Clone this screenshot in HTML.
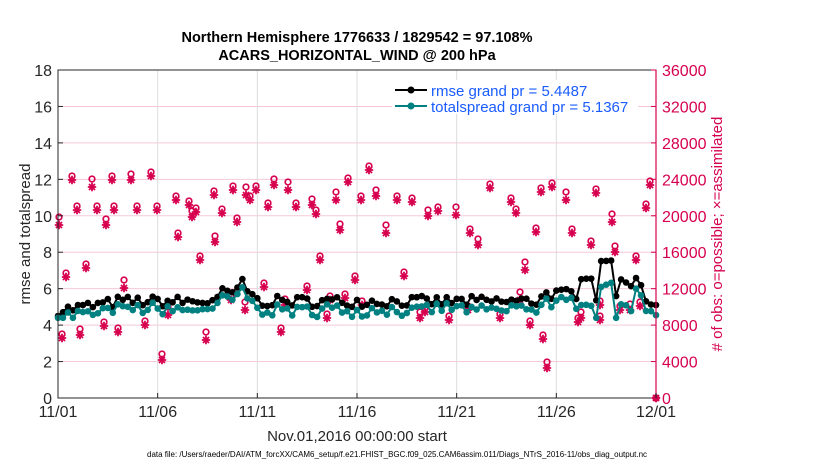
<!DOCTYPE html>
<html><head><meta charset="utf-8"><style>
body{margin:0;background:#fff;}
svg{display:block;font-family:"Liberation Sans",Arial,sans-serif;}
</style></head><body>
<svg id="s" width="830" height="470" viewBox="0 0 830 470" xmlns="http://www.w3.org/2000/svg">
<rect width="830" height="470" fill="#fff"/>
<g id="grid"></g>
<g id="obs"></g>
<g id="lines"></g>
<rect x="58" y="70" width="598" height="328" fill="none" stroke="#262626" stroke-width="1"/>
<line x1="656" y1="70" x2="656" y2="398" stroke="#d6004f" stroke-width="1.2"/>
<g id="ticks"></g>
<text x="357" y="42" font-size="14.5" font-weight="bold" text-anchor="middle">Northern Hemisphere 1776633 / 1829542 = 97.108%</text>
<text x="357" y="60" font-size="14.5" font-weight="bold" text-anchor="middle">ACARS_HORIZONTAL_WIND @ 200 hPa</text>
<text transform="translate(30,234) rotate(-90)" font-size="15" text-anchor="middle" fill="#262626">rmse and totalspread</text>
<text transform="translate(722,234) rotate(-90)" font-size="15" text-anchor="middle" fill="#d6004f"># of obs: o=possible; ×=assimilated</text>
<text x="357" y="441" font-size="15" text-anchor="middle" fill="#262626">Nov.01,2016 00:00:00 start</text>
<text x="397" y="457" font-size="8" text-anchor="middle" fill="#000" textLength="500" lengthAdjust="spacingAndGlyphs">data file: /Users/raeder/DAI/ATM_forcXX/CAM6_setup/f.e21.FHIST_BGC.f09_025.CAM6assim.011/Diags_NTrS_2016-11/obs_diag_output.nc</text>
<rect x="392" y="80" width="246" height="34" fill="#fff"/>
<line x1="395" y1="90" x2="427" y2="90" stroke="#000" stroke-width="2"/><circle cx="411" cy="90" r="3.5" fill="#000"/>
<line x1="395" y1="106" x2="427" y2="106" stroke="#008080" stroke-width="2"/><circle cx="411" cy="106" r="3.5" fill="#008080"/>
<text x="431" y="96" font-size="15" fill="#1a5cff">rmse grand pr = 5.4487</text>
<text x="431" y="112" font-size="15" fill="#1a5cff">totalspread grand pr = 5.1367</text>
</svg>
<script>
const NS="http://www.w3.org/2000/svg";
function el(p,t,a,txt){const e=document.createElementNS(NS,t);for(const k in a)e.setAttribute(k,a[k]);if(txt!==undefined)e.textContent=txt;document.getElementById(p).appendChild(e);return e;}
const X0=58,X1=656,Y0=398,Y1=70;
const xd=d=>X0+d*(X1-X0)/30, yv=v=>Y0-v*(Y0-Y1)/18;
for(let v=2;v<18;v+=2)el("grid","line",{x1:X0,x2:X1,y1:yv(v),y2:yv(v),stroke:"#f5c9d8","stroke-width":1});
for(let d=5;d<30;d+=5)el("grid","line",{x1:xd(d),x2:xd(d),y1:Y1,y2:Y0,stroke:"#dcdcdc","stroke-width":1});
for(let v=0;v<=18;v+=2){el("ticks","line",{x1:X0,x2:X0+5,y1:yv(v),y2:yv(v),stroke:"#262626"});el("ticks","text",{x:X0-6,y:yv(v)+6,"font-size":16,"text-anchor":"end",fill:"#262626"},v);}
for(let c=0;c<=36000;c+=4000){const y=Y0-c*(Y0-Y1)/36000;el("ticks","line",{x1:X1-5,x2:X1,y1:y,y2:y,stroke:"#d6004f"});el("ticks","text",{x:X1+6,y:y+6,"font-size":16,fill:"#d6004f"},c);}
const labs=["11/01","11/06","11/11","11/16","11/21","11/26","12/01"];
labs.forEach((l,i)=>{const x=xd(i*5);el("ticks","line",{x1:x,x2:x,y1:Y0-5,y2:Y0,stroke:"#262626"});el("ticks","text",{x:x,y:417,"font-size":16,"text-anchor":"middle",fill:"#262626"},l);});
const pts=[[59,225],[62,338],[66,277],[72,180],[77,210],[80,335],[86,268],[92,187],[97,210],[104,326],[106,225],[112,180],[114,210],[118,332],[124,288],[131,180],[137,210],[145,325],[151,176],[157,210],[162,360],[168,315],[176,200],[178,237],[189,205],[192,217],[196,212],[200,260],[206,340],[214,195],[215,242],[222,213],[231,300],[233,190],[237,222],[246,195],[250,200],[256,190],[264,287],[268,207],[274,185],[281,332],[288,190],[296,207],[307,290],[312,205],[316,214],[320,260],[327,318],[336,200],[340,230],[348,182],[355,280],[361,200],[369,170],[376,196],[386,233],[397,200],[404,276],[412,202],[428,216],[438,211],[449,320],[456,215],[470,233],[478,245],[490,188],[500,318],[511,202],[516,213],[525,270],[530,325],[536,232],[541,192],[543,339],[547,368],[552,187],[566,200],[572,233],[578,322],[581,318],[591,245],[596,193],[600,320],[612,222],[615,252],[620,310],[636,260],[646,208],[650,185],[285,305],[245,310],[330,300],[345,298],[362,305],[420,318],[425,312],[468,310],[520,300],[600,305],[630,310],[640,306]];
const col="#d6004f";
function star(x,y){const a=4.2,b=3;
 el("obs","path",{d:`M${x-a},${y}H${x+a}M${x},${y-a}V${y+a}M${x-b},${y-b}L${x+b},${y+b}M${x-b},${y+b}L${x+b},${y-b}`,stroke:col,"stroke-width":1.8,fill:"none"});}
pts.forEach(([x,y],i)=>{const dy=(i%7==0)?8:(i%5==0?6:4);
 el("obs","circle",{cx:x,cy:y-dy,r:2.8,fill:"none",stroke:col,"stroke-width":1.7});
 star(x,y);});
star(656,398);
el("obs","circle",{cx:656,cy:398,r:2.8,fill:"none",stroke:col,"stroke-width":1.7});
let r=[],s=[];let seed=7;const rnd=()=>{seed=(seed*16807)%2147483647;return seed/2147483647-0.5;};
for(let i=0;i<=120;i++){const d=i/4;let b=5.3;
 if(d<3)b=4.8+d*0.15; if(d>8&&d<10)b=5.8; if(d>9&&d<9.5)b=6.4;
 if(d>24&&d<26)b=5.7; if(d>26&&d<27)b=6.8; if(d>27&&d<28)b=7.7; if(d>28&&d<29.5)b=6.4;
 let v=b+rnd()*0.6; r.push(v); s.push(Math.max(4.4,v-0.3-Math.abs(rnd())*0.6-(d>26&&d<29?0.9:0)));}
function draw(a,c){let p=a.map((v,i)=>xd(i/4).toFixed(1)+","+yv(v).toFixed(1)).join(" ");el("lines","polyline",{points:p,fill:"none",stroke:c,"stroke-width":2});a.forEach((v,i)=>el("lines","circle",{cx:xd(i/4),cy:yv(v),r:3.3,fill:c}));}
draw(r,"#000");draw(s,"#008080");
</script>
</body></html>
